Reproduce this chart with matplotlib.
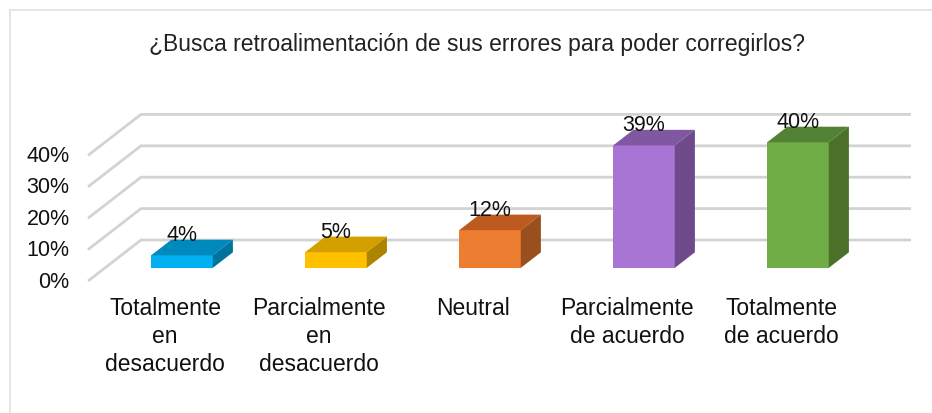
import matplotlib
matplotlib.use("Agg")
import matplotlib.pyplot as plt
from matplotlib.patches import Polygon
from matplotlib.lines import Line2D

# datos de la encuesta
categorias = ["Totalmente\nen\ndesacuerdo", "Parcialmente\nen\ndesacuerdo", "Neutral",
              "Parcialmente\nde acuerdo", "Totalmente\nde acuerdo"]
valores = [4, 5, 12, 39, 40]
ticks = [0, 10, 20, 30, 40]
titulo = "¿Busca retroalimentación de sus errores para poder corregirlos?"

# colores: frente, arriba, lado
frente = ["#00B0F0", "#FFC000", "#ED7D31", "#A875D4", "#70AD47"]
arriba = ["#0089BD", "#D4A000", "#BC5A20", "#8058A2", "#548235"]
lado = ["#00729E", "#AD8400", "#99501E", "#6E4A8A", "#4A702A"]

plt.rcParams["font.family"] = ["Liberation Sans", "DejaVu Sans"]

fig = plt.figure(figsize=(9.32, 4.14), dpi=100)
ax = fig.add_axes([0, 0, 1, 1])
ax.set_xlim(-165 / 154, (932 - 165) / 154)
ax.set_ylim((282 - 414) / 3.14, 282 / 3.14)
ax.axis("off")

# profundidad (perspectiva oblicua)
DX = 53 / 154
DY = 41 / 3.14
d0, d1 = 0.32, 0.70
w = 0.40
n = len(valores)

# paredes: lineas de cuadricula
for t in ticks:
    ax.plot([-0.5, -0.5 + DX, n - 0.5 + DX], [t, t + DY, t + DY],
            color="#D3D3D3", lw=2.0, solid_capstyle="butt", zorder=1)
    ax.text(-0.62, t, f"{t}%", ha="right", va="center", fontsize=15.5, color="#111111")

# barras
for i, v in enumerate(valores):
    x0 = i - w / 2 + d0 * DX
    y0 = d0 * DY
    ax.bar(x0, v, width=w, bottom=y0, align="edge", color=frente[i],
           edgecolor="none", zorder=3)
    dd = (d1 - d0)
    top = [(x0, y0 + v), (x0 + w, y0 + v), (x0 + w + dd * DX, y0 + v + dd * DY),
           (x0 + dd * DX, y0 + v + dd * DY)]
    ax.add_patch(Polygon(top, closed=True, facecolor=arriba[i], edgecolor="none", zorder=3))
    side = [(x0 + w, y0), (x0 + w + dd * DX, y0 + dd * DY),
            (x0 + w + dd * DX, y0 + v + dd * DY), (x0 + w, y0 + v)]
    ax.add_patch(Polygon(side, closed=True, facecolor=lado[i], edgecolor="none", zorder=3))
    ax.text(i + d0 * DX, v + d1 * DY + 1.6, f"{v}%", ha="center", va="center",
            fontsize=15.5, color="#111111", zorder=4)
    ax.text(i, -4.8, categorias[i], ha="center", va="top", fontsize=16.5,
            linespacing=1.28, color="#111111")

fig.text(0.512, 1 - 45 / 414, titulo, ha="center", va="center", fontsize=16.5, color="#222222")

# borde del grafico
fig.add_artist(Line2D([10 / 932, 10 / 932], [0, 1 - 11 / 414], color="#E0E0E0", lw=1.2))
fig.add_artist(Line2D([10 / 932, 1], [1 - 11 / 414, 1 - 11 / 414], color="#E0E0E0", lw=1.2))

fig.savefig("out.png", dpi=100)
